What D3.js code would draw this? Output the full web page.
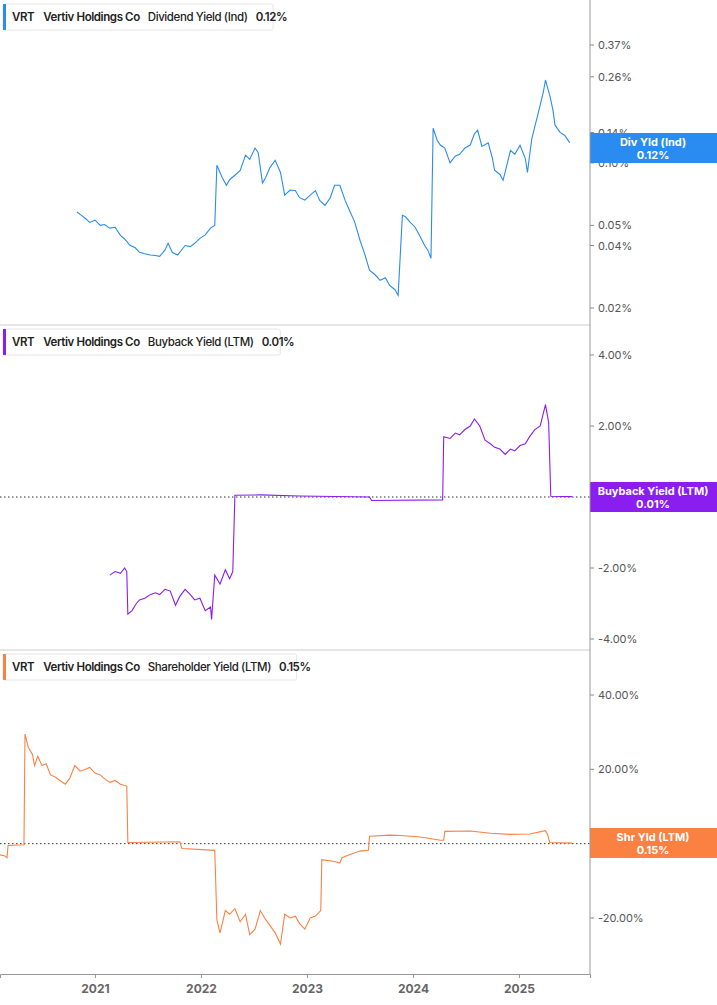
<!DOCTYPE html>
<html><head><meta charset="utf-8">
<script src="https://cdn.jsdelivr.net/npm/d3@7/dist/d3.min.js"></script>
<style>body{margin:0;background:#fff;font-family:Inter,"Open Sans",sans-serif}</style>
</head><body><svg id="c" width="717" height="1005"></svg>
<script>
const years=[2021,2022,2023,2024,2025];
const divTicks=[0.02,0.04,0.05,0.10,0.14,0.26,0.37];
const bbTicks=[-4,-2,2,4];
const shTicks=[-20,0,20,40];
const divData=[[2020.83,0.058],[2020.86,0.0565],[2020.91,0.054],[2020.95,0.0517],[2021.00,0.053],[2021.05,0.050],[2021.09,0.0505],[2021.14,0.0485],[2021.19,0.049],[2021.24,0.0448],[2021.28,0.043],[2021.33,0.0401],[2021.38,0.039],[2021.42,0.0371],[2021.47,0.0365],[2021.52,0.036],[2021.57,0.0358],[2021.61,0.0355],[2021.66,0.038],[2021.69,0.041],[2021.73,0.037],[2021.78,0.036],[2021.85,0.040],[2021.90,0.0395],[2021.94,0.041],[2021.99,0.0433],[2022.04,0.045],[2022.09,0.0485],[2022.13,0.050],[2022.15,0.0975],[2022.20,0.085],[2022.24,0.078],[2022.27,0.083],[2022.32,0.0872],[2022.37,0.092],[2022.42,0.109],[2022.46,0.104],[2022.51,0.118],[2022.54,0.112],[2022.58,0.080],[2022.61,0.085],[2022.65,0.095],[2022.70,0.103],[2022.75,0.090],[2022.79,0.070],[2022.84,0.074],[2022.89,0.0736],[2022.93,0.068],[2022.98,0.0662],[2023.03,0.070],[2023.08,0.0736],[2023.12,0.066],[2023.17,0.0625],[2023.22,0.068],[2023.26,0.0781],[2023.31,0.0781],[2023.36,0.066],[2023.40,0.0592],[2023.45,0.052],[2023.50,0.0424],[2023.54,0.037],[2023.59,0.0304],[2023.64,0.029],[2023.69,0.0272],[2023.74,0.028],[2023.78,0.0257],[2023.83,0.0245],[2023.86,0.023],[2023.90,0.0559],[2023.93,0.055],[2023.97,0.052],[2024.02,0.049],[2024.07,0.044],[2024.11,0.040],[2024.14,0.038],[2024.17,0.0347],[2024.19,0.147],[2024.23,0.128],[2024.26,0.1217],[2024.30,0.118],[2024.35,0.100],[2024.40,0.108],[2024.44,0.110],[2024.49,0.118],[2024.54,0.122],[2024.58,0.138],[2024.61,0.144],[2024.65,0.120],[2024.71,0.125],[2024.75,0.105],[2024.77,0.0922],[2024.82,0.088],[2024.85,0.0825],[2024.88,0.095],[2024.92,0.115],[2024.96,0.110],[2025.01,0.1217],[2025.06,0.105],[2025.08,0.090],[2025.12,0.130],[2025.15,0.150],[2025.20,0.190],[2025.23,0.220],[2025.25,0.251],[2025.27,0.230],[2025.29,0.212],[2025.32,0.180],[2025.34,0.152],[2025.39,0.140],[2025.43,0.136],[2025.48,0.125]];
const bbData=[[2021.14,-2.2],[2021.19,-2.1],[2021.24,-2.15],[2021.28,-2.0],[2021.30,-2.1],[2021.31,-3.3],[2021.35,-3.2],[2021.39,-3.0],[2021.42,-2.9],[2021.47,-2.85],[2021.52,-2.75],[2021.57,-2.7],[2021.61,-2.75],[2021.66,-2.6],[2021.71,-2.65],[2021.76,-3.05],[2021.80,-2.8],[2021.85,-2.6],[2021.90,-2.75],[2021.94,-2.9],[2021.99,-2.85],[2022.04,-3.2],[2022.09,-3.1],[2022.10,-3.45],[2022.13,-2.2],[2022.18,-2.45],[2022.23,-2.05],[2022.27,-2.3],[2022.30,-2.1],[2022.32,0.05],[2022.56,0.06],[2022.93,0.03],[2023.59,0.0],[2023.61,-0.1],[2024.28,-0.08],[2024.29,1.7],[2024.35,1.65],[2024.40,1.8],[2024.44,1.75],[2024.49,1.9],[2024.54,2.0],[2024.58,2.2],[2024.63,2.0],[2024.68,1.6],[2024.73,1.5],[2024.77,1.4],[2024.82,1.35],[2024.87,1.2],[2024.92,1.35],[2024.96,1.3],[2025.01,1.45],[2025.06,1.5],[2025.10,1.7],[2025.15,1.9],[2025.20,2.0],[2025.25,2.6],[2025.28,2.1],[2025.30,0.02],[2025.50,0.01]];
const shData=[[2020.10,-3.0],[2020.15,-3.3],[2020.17,-3.8],[2020.18,-0.5],[2020.33,-0.3],[2020.34,29.5],[2020.37,26],[2020.41,24],[2020.43,21],[2020.46,23.5],[2020.50,21],[2020.54,21.5],[2020.58,18.5],[2020.62,18],[2020.67,17],[2020.72,16],[2020.76,17.5],[2020.81,21],[2020.86,19.5],[2020.91,20],[2020.95,20.5],[2021.00,19],[2021.05,18.5],[2021.09,17.5],[2021.14,16.5],[2021.19,17],[2021.24,16],[2021.30,15.5],[2021.31,0.3],[2021.80,0.5],[2021.82,-1.3],[2022.13,-1.8],[2022.15,-20.5],[2022.18,-24],[2022.23,-18],[2022.27,-19],[2022.32,-17.5],[2022.37,-21],[2022.42,-19],[2022.46,-24.5],[2022.51,-23],[2022.56,-18],[2022.60,-20],[2022.65,-22],[2022.70,-24],[2022.75,-27],[2022.79,-19],[2022.84,-20],[2022.89,-19.5],[2022.93,-21.5],[2022.98,-23],[2023.03,-20],[2023.08,-19.5],[2023.13,-18],[2023.14,-4.3],[2023.26,-4.8],[2023.31,-5.2],[2023.33,-3.8],[2023.40,-3],[2023.50,-2],[2023.58,-1.8],[2023.59,2],[2023.78,2.3],[2023.88,2.2],[2024.07,1.8],[2024.26,0.9],[2024.29,0.9],[2024.30,3.3],[2024.54,3.4],[2024.73,2.8],[2024.92,2.5],[2025.10,2.6],[2025.25,3.5],[2025.27,2.5],[2025.29,0.3],[2025.50,0.15]];

const svg=d3.select("#c");
const W=590;
const x=d3.scaleLinear().domain([2020.104,2025.67]).range([0,W]);
const panels=[
 {data:divData,y:d3.scaleLog().domain([0.02,0.37]).range([308,45]),ticks:divTicks,fmt:d=>d.toFixed(2)+"%",color:"#2a8cf0",top:0,
  legend:["VRT","Vertiv Holdings Co","Dividend Yield (Ind)","0.12%"],tag:["Div Yld (Ind)","0.12%"],tagY:148,zero:false},
 {data:bbData,y:d3.scaleLinear().domain([-4,4]).range([639,355]),ticks:bbTicks,fmt:d=>d.toFixed(2)+"%",color:"#8a1ef0",top:325,
  legend:["VRT","Vertiv Holdings Co","Buyback Yield (LTM)","0.01%"],tag:["Buyback Yield (LTM)","0.01%"],tagY:497,zero:true},
 {data:shData,y:d3.scaleLinear().domain([-20,40]).range([918,695]),ticks:shTicks,fmt:d=>d.toFixed(2)+"%",color:"#fb8143",top:650,
  legend:["VRT","Vertiv Holdings Co","Shareholder Yield (LTM)","0.15%"],tag:["Shr Yld (LTM)","0.15%"],tagY:843,zero:true}
];
panels.forEach((p,i)=>{
  const g=svg.append("g");
  if(i>0) g.append("line").attr("x1",0).attr("x2",W).attr("y1",p.top).attr("y2",p.top).attr("stroke","#ccc");
  p.ticks.forEach(t=>{
    const yy=p.y(t);
    g.append("line").attr("x1",W).attr("x2",W+4).attr("y1",yy).attr("y2",yy).attr("stroke","#888");
    g.append("text").attr("x",W+8).attr("y",yy+4).attr("font-size",11).attr("fill","#555").text(p.fmt(t));
  });
  if(p.zero) g.append("line").attr("x1",0).attr("x2",W).attr("y1",p.y(0)).attr("y2",p.y(0)).attr("stroke","#333").attr("stroke-dasharray","1.5,2.5");
  const line=d3.line().x(d=>x(d[0])).y(d=>p.y(d[1]));
  g.append("path").datum(p.data).attr("d",line).attr("fill","none").attr("stroke",p.color).attr("stroke-width",1.1);
  const lg=g.append("g").attr("transform",`translate(3,${p.top+4})`);
  const t=lg.append("text").attr("x",9).attr("y",17).attr("font-size",11.5).attr("font-weight",600).attr("fill","#222").attr("letter-spacing","-0.4");
  t.append("tspan").text(p.legend[0]);
  t.append("tspan").attr("dx",9).text(p.legend[1]);
  t.append("tspan").attr("dx",8).attr("font-weight",500).text(p.legend[2]);
  t.append("tspan").attr("dx",8).text(p.legend[3]);
  const bw=t.node().getComputedTextLength()+20;
  lg.insert("rect","text").attr("width",bw).attr("height",26).attr("rx",2).attr("fill","#fff").attr("stroke","#e6e6e6");
  lg.insert("rect","text").attr("width",3).attr("height",26).attr("fill",p.color);
  svg.append("rect").attr("x",W).attr("y",p.tagY-15).attr("width",717-W).attr("height",30).attr("fill",p.color);
  svg.append("text").attr("x",653).attr("y",p.tagY-2).attr("text-anchor","middle").attr("font-size",11).attr("font-weight",700).attr("fill","#fff").text(p.tag[0]);
  svg.append("text").attr("x",653).attr("y",p.tagY+11).attr("text-anchor","middle").attr("font-size",11).attr("font-weight",700).attr("fill","#fff").text(p.tag[1]);
});
svg.append("line").attr("x1",W).attr("x2",W).attr("y1",0).attr("y2",974).attr("stroke","#999");
const ax=svg.append("g").attr("transform","translate(0,974)").call(d3.axisBottom(x).tickValues(years).tickFormat(d3.format("d")).tickSize(4).tickPadding(6));
ax.select(".domain").attr("stroke","#999");
ax.selectAll("line").attr("stroke","#999");
ax.selectAll("text").attr("font-size",12).attr("font-weight",700).attr("fill","#666").attr("font-family","Inter,sans-serif");
</script></body></html>
